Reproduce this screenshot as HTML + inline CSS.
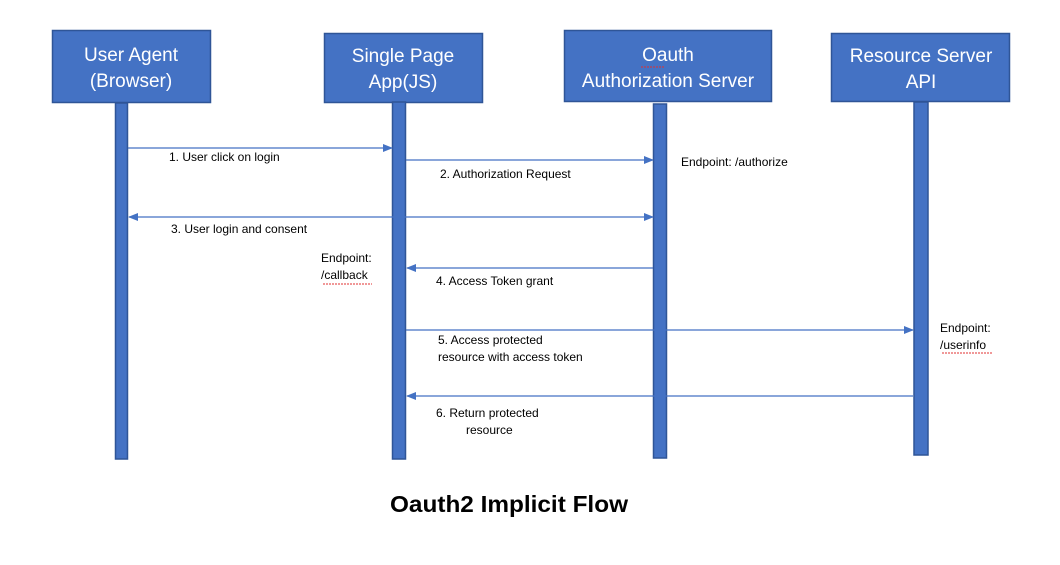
<!DOCTYPE html>
<html><head><style>
body{margin:0;background:#fff;}
svg text{font-family:"Liberation Sans",sans-serif;}
</style></head><body>
<svg width="1060" height="560" viewBox="0 0 1060 560" xmlns="http://www.w3.org/2000/svg">
<defs>
<marker id="a" markerWidth="10" markerHeight="10" refX="9" refY="5" orient="auto" markerUnits="userSpaceOnUse">
<path d="M0,1 L10,5 L0,9 Z" fill="#4472c4"/></marker>
<marker id="s" markerWidth="10" markerHeight="10" refX="1" refY="5" orient="auto" markerUnits="userSpaceOnUse">
<path d="M10,1 L0,5 L10,9 Z" fill="#4472c4"/></marker>
</defs>
<g fill="#4472c4" stroke="#2f5597" stroke-width="1.5">
<rect x="52.5" y="30.5" width="158" height="72"/>
<rect x="324.5" y="33.5" width="158" height="69"/>
<rect x="564.5" y="30.5" width="207" height="71"/>
<rect x="831.5" y="33.5" width="178" height="68"/>
<rect x="115.5" y="103" width="12" height="356"/>
<rect x="392.5" y="102" width="13" height="357"/>
<rect x="653.5" y="104" width="13" height="354"/>
<rect x="914" y="102" width="14" height="353"/>
</g>
<g fill="#fff" font-size="19" text-anchor="middle">
<text x="131" y="61">User Agent</text><text x="131" y="87">(Browser)</text>
<text x="403" y="62">Single Page</text><text x="403" y="88">App(JS)</text>
<text x="668" y="61">Oauth</text><text x="668" y="87">Authorization Server</text>
<text x="921" y="62">Resource Server</text><text x="921" y="88">API</text>
</g>
<g stroke="#4472c4" stroke-width="1.2" fill="none">
<line x1="128" y1="148" x2="392" y2="148" marker-end="url(#a)"/>
<line x1="406" y1="160" x2="653" y2="160" marker-end="url(#a)"/>
<line x1="129" y1="217" x2="653" y2="217" marker-end="url(#a)" marker-start="url(#s)"/>
<line x1="653" y1="268" x2="407" y2="268" marker-end="url(#a)"/>
<line x1="406" y1="330" x2="913" y2="330" marker-end="url(#a)"/>
<line x1="913" y1="396" x2="407" y2="396" marker-end="url(#a)"/>
</g>
<g fill="#000" font-size="12">
<text x="169" y="161">1. User click on login</text>
<text x="440" y="178">2. Authorization Request</text>
<text x="681" y="166">Endpoint: /authorize</text>
<text x="171" y="233">3. User login and consent</text>
<text x="321" y="262">Endpoint:</text>
<text x="321" y="279">/callback</text>
<text x="436" y="285">4. Access Token grant</text>
<text x="438" y="344">5. Access protected</text>
<text x="438" y="361">resource with access token</text>
<text x="940" y="332">Endpoint:</text>
<text x="940" y="349">/userinfo</text>
<text x="436" y="417">6. Return protected</text>
<text x="466" y="434">resource</text>
</g>
<g stroke="#e03030" stroke-width="1" fill="none" stroke-dasharray="2,1">
<path d="M641,67 L665,67"/><path d="M323,284 L372,284"/><path d="M942,353 L992,353"/>
</g>
<text x="390" y="512" font-size="23" font-weight="bold" textLength="238" lengthAdjust="spacingAndGlyphs" fill="#000">Oauth2 Implicit Flow</text>
</svg>
</body></html>
